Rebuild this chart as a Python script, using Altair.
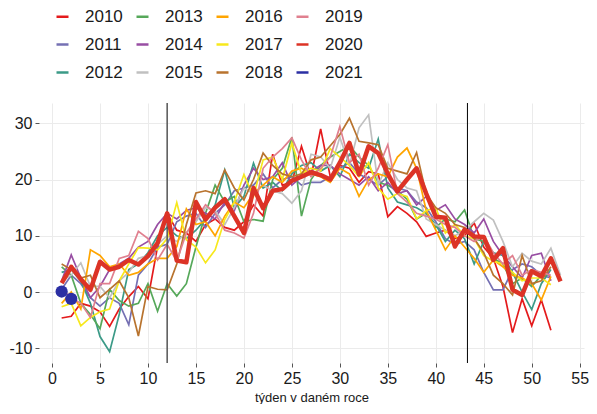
import altair as alt
import pandas as pd

years_order = ["2010", "2011", "2012", "2013", "2014", "2015", "2016", "2017", "2018", "2019", "2020", "2021"]
colors_order = ["#E41A1C", "#7570B3", "#3B9A87", "#56A85A", "#984EA3", "#C0C0C0", "#FFA500", "#F7E81C",
                "#B8732E", "#E0808F", "#DC3326", "#2B2FA3"]

y2010 = [-4.6, -4.3, -2.0, -2.5, -3.5, -6.1, -3.0, -0.8, 1.0, -1.2, 8.1, 14.0, 11.0, 10.5, 9.0, 12.0, 13.0, 11.5, 11.0, 12.5,
         15.5, 13.5, 24.5, 19.0, 19.5, 25.9, 20.5, 29.0, 20.5, 22.5, 22.0, 19.5, 21.4, 21.0, 13.4, 15.2, 14.0, 12.5, 9.9, 10.5,
         11.0, 9.5, 10.0, 12.3, 8.0, 6.0, 1.0, -7.2, -1.2, -6.0, -1.4, -6.8]
y2011 = [0.5, 3.0, 1.5, -1.0, -2.5, -1.0, -2.0, -5.8, 3.0, 5.0, 8.0, 8.5, 12.5, 13.5, 14.0, 11.5, 14.0, 15.5, 18.0, 18.5,
         19.0, 21.0, 18.5, 20.0, 20.5, 19.0, 19.5, 19.5, 20.5, 22.0, 23.0, 21.0, 20.0, 19.0, 20.5, 18.5, 18.0, 16.0, 15.0, 12.5,
         9.5, 8.5, 9.0, 7.5, 3.5, 0.4, 0.4, 4.0, 5.0, 4.5, 3.0, 2.5]
y2012 = [3.5, 4.0, 2.0, -2.0, -7.9, -10.6, -4.0, 4.0, 5.0, 7.0, 10.0, 11.5, 10.0, 9.5, 11.0, 13.0, 15.5, 21.7, 15.0, 17.0,
         22.9, 18.5, 19.5, 18.0, 21.0, 22.5, 23.0, 21.5, 22.5, 20.5, 24.5, 23.0, 22.0, 27.2, 18.5, 16.0, 15.5, 15.0, 14.0, 12.0,
         9.0, 11.0, 9.5, 5.0, 9.0, 7.0, 6.5, 3.5, 0.0, -3.1, 1.5, 4.0]
y2013 = [4.5, 3.0, -2.0, -4.0, -6.5, 0.5, -1.5, -2.5, -2.0, 1.5, -3.4, 1.5, -0.7, 1.5, 8.0, 14.0, 19.0, 16.0, 17.0, 12.5,
         12.9, 12.6, 20.0, 22.0, 27.5, 13.5, 20.0, 22.5, 24.0, 25.0, 26.0, 24.0, 22.5, 19.5, 19.0, 18.0, 16.5, 13.0, 14.0, 11.5,
         13.0, 12.5, 14.6, 9.5, 9.0, 6.0, 5.0, 1.5, 2.5, 1.0, 3.0, 5.5]
y2014 = [2.0, 6.6, 2.5, -1.0, 1.0, 4.0, 5.0, 6.0, 8.0, 9.0, 12.0, 14.0, 13.0, 14.5, 15.0, 14.0, 13.0, 16.0, 14.5, 19.0,
         22.0, 20.0, 20.5, 23.0, 19.0, 20.5, 21.5, 22.5, 22.5, 21.0, 20.0, 19.0, 20.5, 18.0, 19.5, 17.5, 18.0, 15.5, 17.0, 14.5,
         15.5, 13.0, 12.0, 10.5, 13.0, 9.0, 6.5, 4.5, 2.5, 6.5, 6.9, 2.0]
y2015 = [2.0, 3.0, 5.2, 1.0, 1.0, -1.0, 2.0, 3.5, 6.0, 6.5, 8.5, 10.0, 9.0, 10.5, 12.5, 15.0, 14.5, 12.0, 15.0, 18.5,
         17.5, 19.0, 18.0, 17.5, 15.8, 18.0, 24.5, 24.0, 22.0, 27.5, 22.5, 29.2, 31.5, 19.0, 23.0, 20.0, 18.5, 18.0, 13.0, 12.0,
         11.0, 10.0, 11.0, 12.5, 14.0, 12.8, 9.0, 4.5, 6.9, 5.5, 5.0, 7.8, 3.0]
y2016 = [-2.0, 0.0, -3.0, 7.5, 6.5, 4.5, 5.0, 3.0, 3.5, 5.0, 6.0, 6.0, 8.1, 14.8, 12.0, 12.5, 10.0, 13.5, 16.0, 15.0,
         17.5, 19.0, 20.5, 19.5, 21.5, 22.0, 21.0, 20.5, 19.5, 22.0, 21.0, 17.0, 20.0, 21.0, 20.5, 24.0, 25.6, 22.0, 14.5, 11.0,
         7.5, 10.0, 8.0, 6.0, 3.5, 5.7, 4.5, 3.0, 2.5, 1.5, -1.4, 2.8]
y2017 = [-2.6, -2.0, -6.0, -4.5, -3.5, -3.0, 2.0, 5.0, 7.9, 7.8, 7.5, 9.5, 15.9, 9.3, 8.0, 5.2, 7.5, 12.9, 16.0, 20.9,
         17.0, 23.5, 24.0, 20.0, 26.5, 21.0, 22.0, 21.5, 25.5, 24.0, 22.5, 20.5, 23.0, 18.5, 16.5, 17.5, 17.0, 13.0, 14.5, 15.0,
         10.5, 12.0, 10.0, 9.5, 6.5, 5.5, 5.0, 3.5, 2.0, 2.5, 2.5, 1.3]
y2018 = [5.0, 4.0, 2.5, 3.0, -1.0, 0.5, 2.0, -1.0, -7.8, 1.0, 0.5, 0.4, 5.0, 12.0, 17.6, 18.0, 17.5, 21.7, 18.5, 16.4,
         20.0, 24.7, 22.5, 21.0, 20.5, 21.0, 23.5, 24.0, 26.0, 28.0, 30.9, 26.8, 26.5, 26.2, 22.0, 21.5, 21.0, 24.8, 17.5, 15.0,
         14.0, 12.0, 11.5, 9.5, 7.0, 3.0, 1.5, -0.5, 6.5, 1.5, 2.0, 4.5]
y2019 = [0.5, -1.0, -2.0, -4.5, 1.5, 1.5, 6.0, 6.5, 10.8, 9.5, 5.7, 8.5, 5.5, 10.5, 13.0, 15.5, 14.0, 11.0, 10.5, 9.6,
         14.0, 22.0, 24.0, 25.5, 27.4, 23.5, 20.5, 22.0, 24.0, 29.4, 23.0, 24.5, 19.0, 22.0, 26.2, 17.5, 16.0, 14.0, 13.5, 13.0,
         12.0, 11.5, 10.0, 9.0, 10.0, 7.0, 5.0, 6.5, 3.0, 4.0, 3.5, 3.0]
y2020 = [1.6, 4.5, 2.3, 0.4, 5.4, 4.0, 4.5, 5.7, 4.9, 6.4, 8.7, 14.0, 5.6, 5.3, 16.0, 12.9, 15.0, 16.5, 13.5, 10.5,
         18.5, 14.9, 18.0, 18.3, 19.8, 20.5, 21.3, 20.8, 20.0, 23.0, 26.5, 20.9, 25.9, 24.7, 21.0, 17.9, 20.0, 22.0, 17.5, 13.4,
         13.2, 8.1, 11.1, 9.9, 9.8, 5.7, 7.8, 0.4, -0.5, 3.7, 2.8, 6.0, 1.9]
y2021 = [0.1, -1.2]

thin_series = {"2010": y2010, "2011": y2011, "2012": y2012, "2013": y2013, "2014": y2014,
               "2015": y2015, "2016": y2016, "2017": y2017, "2018": y2018, "2019": y2019}

rows = []
for yr, vals in thin_series.items():
    for i, v in enumerate(vals):
        rows.append({"rok": yr, "tyden": i + 1, "teplota": v})
thin_df = pd.DataFrame(rows)
df2020 = pd.DataFrame({"rok": "2020", "tyden": list(range(1, len(y2020) + 1)), "teplota": y2020})
df2021 = pd.DataFrame({"rok": "2021", "tyden": list(range(1, len(y2021) + 1)), "teplota": y2021})

vlines = pd.DataFrame({"tyden": [12, 43.3], "barva": ["#555555", "#000000"], "sirka": [1.5, 1.0]})

FONT = "Liberation Sans, Arial, Helvetica"

xscale = alt.Scale(domain=[-1.36, 55.45], nice=False, zero=False)
yscale = alt.Scale(domain=[-12.6, 33.6], nice=False, zero=False)

color = alt.Color(
    "rok:N",
    scale=alt.Scale(domain=years_order, range=colors_order),
    legend=alt.Legend(
        orient="none", legendX=15, legendY=-95, columns=4, title=None,
        labelFont=FONT, labelFontSize=17, labelColor="#1a1a1a",
        symbolType="stroke", symbolSize=144, symbolStrokeWidth=2.5,
        columnPadding=8, rowPadding=10, labelOffset=14, padding=0,
    ),
)

xaxis = alt.Axis(values=list(range(0, 56, 5)), title="týden v daném roce", titleFont=FONT, titleFontSize=13,
                 titleFontWeight="normal", titleColor="#1a1a1a", titlePadding=5,
                 labelFont=FONT, labelFontSize=16, labelColor="#1a1a1a", labelPadding=3,
                 tickColor="#555555", tickSize=4, domain=False, grid=True, gridColor="#EBEBEB")
yaxis = alt.Axis(values=[-10, 0, 10, 20, 30], title=None, labelExpr="'' + datum.value",
                 labelFont=FONT, labelFontSize=16, labelColor="#1a1a1a", labelPadding=3,
                 tickColor="#555555", tickSize=4, domain=False, grid=True, gridColor="#EBEBEB")

base_x = alt.X("tyden:Q", scale=xscale, axis=xaxis)
base_y = alt.Y("teplota:Q", scale=yscale, axis=yaxis)

thin = alt.Chart(thin_df).mark_line(strokeWidth=1.7).encode(
    x=base_x, y=base_y, color=color, detail="rok:N"
)
thick = alt.Chart(df2020).mark_line(strokeWidth=4.5, strokeJoin="round").encode(
    x=alt.X("tyden:Q", scale=xscale), y=alt.Y("teplota:Q", scale=yscale), color=color
)
rules = alt.Chart(vlines).mark_rule().encode(
    x=alt.X("tyden:Q", scale=xscale),
    color=alt.Color("barva:N", scale=None, legend=None),
    strokeWidth=alt.StrokeWidth("sirka:Q", scale=None, legend=None),
)
pts = alt.Chart(df2021).mark_circle(size=150, opacity=1, color="#2B2FA3").encode(
    x=alt.X("tyden:Q", scale=xscale), y=alt.Y("teplota:Q", scale=yscale)
)

chart = alt.layer(thin, rules, thick, pts).properties(
    width=545, height=260,
    autosize=alt.AutoSizeParams(type="none"),
    padding={"left": 31, "top": 95, "right": 5, "bottom": 41},
).configure_view(stroke=None).configure_axis(labelFont=FONT)

chart.save("out.html", embed_options={"renderer": "svg", "actions": False})
